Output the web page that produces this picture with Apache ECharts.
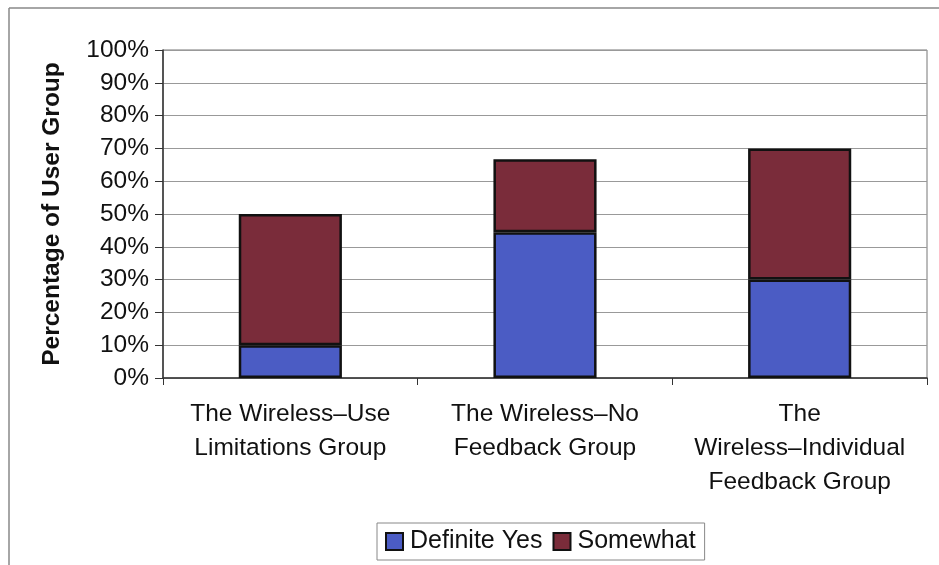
<!DOCTYPE html>
<html>
<head>
<meta charset="utf-8">
<script src="https://cdn.jsdelivr.net/npm/echarts@6/dist/echarts.min.js"></script>
<style>html,body{margin:0;padding:0;background:#fff}#c{width:939px;height:565px}</style>
</head>
<body>
<div id="c"></div>
<script>
const categories = ["The Wireless–Use\nLimitations Group", "The Wireless–No\nFeedback Group", "The\nWireless–Individual\nFeedback Group"];
const definiteYes = [10, 44.4, 30];
const somewhat = [40, 22.3, 40];
const yTicks = [0, 10, 20, 30, 40, 50, 60, 70, 80, 90, 100];

const FONT = "'Liberation Sans', Arial, sans-serif";
const chart = echarts.init(document.getElementById('c'), null, {renderer: 'canvas'});
chart.setOption({
  animation: false,
  backgroundColor: '#fff',
  textStyle: {fontFamily: FONT},
  grid: {left: 163, right: 12, top: 50, bottom: 187, show: true, borderColor: '#777', borderWidth: 1, backgroundColor: 'transparent'},
  legend: {
    left: 377, top: 523,
    itemWidth: 17, itemHeight: 17, itemGap: 10,
    padding: [6, 9, 6, 8],
    borderColor: '#888', borderWidth: 1,
    icon: 'rect',
    textStyle: {fontSize: 25, color: '#111', fontFamily: FONT, padding: [0, 0, 0, 2]},
    data: ['Definite Yes', 'Somewhat']
  },
  xAxis: {
    type: 'category',
    data: categories,
    axisLine: {lineStyle: {color: '#333', width: 1.5}},
    axisTick: {show: true, length: 7, lineStyle: {color: '#333'}},
    axisLabel: {fontSize: 24.5, color: '#111', lineHeight: 34, margin: 19, interval: 0, fontFamily: FONT}
  },
  yAxis: {
    type: 'value', min: yTicks[0], max: yTicks[yTicks.length - 1], interval: 10,
    name: 'Percentage of User Group',
    nameLocation: 'middle', nameGap: 98, nameRotate: 90,
    nameTextStyle: {fontSize: 24.5, fontWeight: 'bold', color: '#111', fontFamily: FONT},
    axisLine: {show: true, lineStyle: {color: '#333', width: 1.5}},
    axisTick: {show: true, length: 8, lineStyle: {color: '#333'}},
    axisLabel: {fontSize: 24.5, color: '#111', margin: 14, formatter: v => v + '%', fontFamily: FONT},
    splitLine: {lineStyle: {color: '#999', width: 1}}
  },
  series: [
    {name: 'Definite Yes', type: 'bar', stack: 's', data: definiteYes, barWidth: '40.5%',
     itemStyle: {color: '#4b5cc4', borderColor: '#111', borderWidth: 2.5}},
    {name: 'Somewhat', type: 'bar', stack: 's', data: somewhat, barWidth: '40.5%',
     itemStyle: {color: '#7a2c3a', borderColor: '#111', borderWidth: 2.5}}
  ],
  graphic: [
    {type: 'line', shape: {x1: 9, y1: 8, x2: 939, y2: 8}, style: {stroke: '#888', lineWidth: 1.5}},
    {type: 'line', shape: {x1: 9, y1: 8, x2: 9, y2: 565}, style: {stroke: '#888', lineWidth: 1.5}}
  ]
});
</script>
</body>
</html>
